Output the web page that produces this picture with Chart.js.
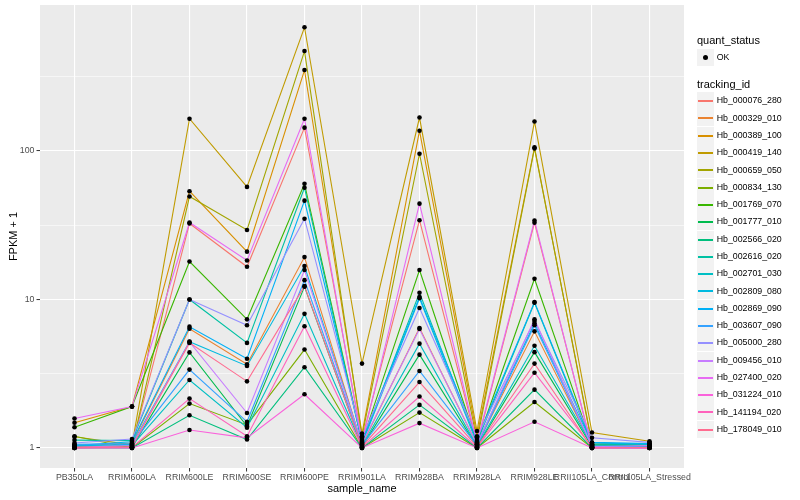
<!DOCTYPE html>
<html><head><meta charset="utf-8">
<script src="https://cdn.jsdelivr.net/npm/chart.js@4.4.1/dist/chart.umd.min.js"></script>
<style>
html,body{margin:0;padding:0;background:#fff;}
#wrap{position:relative;width:800px;height:500px;font-family:"Liberation Sans",Arial,Helvetica,sans-serif;overflow:hidden;}
canvas{position:absolute;left:0;top:0;}
.lg{position:absolute;white-space:nowrap;color:#000;}
.key{position:absolute;background:#F2F2F2;}
</style></head><body>
<div id="wrap"><canvas id="c" width="800" height="500"></canvas><div id="legend"></div></div>
<script>
const categories = ["PB350LA","RRIM600LA","RRIM600LE","RRIM600SE","RRIM600PE","RRIM901LA","RRIM928BA","RRIM928LA","RRIM928LE","RRII105LA_Control","RRII105LA_Stressed"];
const seriesNames = ["Hb_000076_280","Hb_000329_010","Hb_000389_100","Hb_000419_140","Hb_000659_050","Hb_000834_130","Hb_001769_070","Hb_001777_010","Hb_002566_020","Hb_002616_020","Hb_002701_030","Hb_002809_080","Hb_002869_090","Hb_003607_090","Hb_005000_280","Hb_009456_010","Hb_027400_020","Hb_031224_010","Hb_141194_020","Hb_178049_010"];
const seriesColors = ["#F8766D","#EA8331","#D89000","#C09B00","#A3A500","#7CAE00","#39B600","#00BB4E","#00BF7D","#00C1A3","#00BFC4","#00BAE0","#00B0F6","#35A2FF","#9590FF","#C77CFF","#E76BF3","#FA62DB","#FF62BC","#FF6C90"];

const hb000076_280 = [1.02, 1.03, 32.5, 16.6, 143.6, 1.15, 34.2, 1.06, 32.9, 1.01, 1.02];
const hb000329_010 = [1.03, 1.08, 6.36, 3.66, 19.3, 1.05, 6.43, 1.05, 6.1, 1.03, 1.04];
const hb000389_100 = [1.48, 1.9, 53.6, 21.0, 351, 1.25, 137, 1.2, 106, 1.05, 1.05];
const hb000419_140 = [1.19, 1.05, 165, 57.3, 681, 3.7, 168, 1.3, 158, 1.27, 1.11];
const hb000659_050 = [1.0, 1.02, 49.4, 29.4, 471, 1.2, 95.8, 1.12, 104, 1.08, 1.06];
const hb000834_130 = [1.2, 1.0, 1.99, 1.43, 4.6, 1.0, 1.73, 1.0, 2.04, 1.0, 1.01];
const hb001769_070 = [1.38, 1.9, 18.0, 7.35, 60.2, 1.1, 15.8, 1.08, 13.8, 1.05, 1.03];
const hb001777_010 = [1.02, 1.01, 4.4, 1.40, 12.2, 1.02, 4.25, 1.02, 4.42, 1.02, 1.02];
const hb002566_020 = [1.0, 1.0, 1.66, 1.14, 3.5, 1.0, 1.95, 1.0, 2.47, 1.0, 1.0];
const hb002616_020 = [1.13, 1.12, 10.0, 5.1, 56.6, 1.08, 11.1, 1.1, 9.5, 1.06, 1.05];
const hb002701_030 = [1.05, 1.04, 2.87, 1.37, 8.0, 1.03, 5.04, 1.03, 4.88, 1.04, 1.03];
const hb002809_080 = [1.03, 1.06, 5.2, 3.57, 16.8, 1.06, 10.2, 1.07, 6.9, 1.08, 1.06];
const hb002869_090 = [1.04, 1.1, 6.56, 3.99, 46.3, 1.12, 10.4, 1.15, 9.6, 1.09, 1.07];
const hb003607_090 = [1.06, 1.07, 3.37, 1.50, 13.5, 1.04, 3.30, 1.04, 6.7, 1.03, 1.02];
const hb005000_280 = [1.08, 1.15, 10.0, 6.7, 35.0, 1.18, 8.77, 1.18, 7.16, 1.17, 1.09];
const hb009456_010 = [1.01, 1.04, 5.18, 1.72, 15.8, 1.07, 6.33, 1.06, 7.35, 1.02, 1.04];
const hb027400_020 = [1.58, 1.9, 33.0, 18.3, 165, 1.09, 44.2, 1.09, 34.0, 1.0, 1.0];
const hb031224_010 = [1.0, 1.0, 1.32, 1.17, 2.3, 1.0, 1.47, 1.0, 1.50, 1.0, 1.0];
const hb141194_020 = [1.0, 1.01, 2.15, 1.2, 6.6, 1.01, 2.22, 1.01, 3.21, 1.01, 1.0];
const hb178049_010 = [1.01, 1.02, 5.1, 2.81, 12.3, 1.02, 2.78, 1.02, 3.70, 1.0, 1.01];

const seriesValues = [hb000076_280,hb000329_010,hb000389_100,hb000419_140,hb000659_050,hb000834_130,hb001769_070,hb001777_010,hb002566_020,hb002616_020,hb002701_030,hb002809_080,hb002869_090,hb003607_090,hb005000_280,hb009456_010,hb027400_020,hb031224_010,hb141194_020,hb178049_010];

const yTickLabels = [1, 10, 100];
const yMinorGrid = [3.1623, 31.623, 316.23];

Chart.defaults.font.family = '"Liberation Sans", Arial, Helvetica, sans-serif';
Chart.defaults.animation = false;

const datasets = seriesValues.map((vals, i) => ({
  label: seriesNames[i],
  data: vals.map((v, j) => ({x: j, y: v})),
  borderColor: seriesColors[i],
  backgroundColor: seriesColors[i],
  borderWidth: 1.1,
  pointRadius: 0,
  pointHoverRadius: 0,
  fill: false,
  tension: 0,
  order: seriesValues.length - i
}));
const allPoints = [];
seriesValues.forEach(vals => vals.forEach((v, j) => allPoints.push({x: j, y: v})));
datasets.push({
  label: 'OK',
  data: allPoints,
  showLine: false,
  pointRadius: 2.3,
  pointBackgroundColor: '#000',
  pointBorderWidth: 0,
  borderColor: '#000',
  order: -1
});

const panelBg = {
  id: 'panelBg',
  beforeDraw(chart) {
    const {ctx, chartArea: a} = chart;
    ctx.save();
    ctx.fillStyle = '#EBEBEB';
    ctx.fillRect(a.left, a.top, a.right - a.left, a.bottom - a.top);
    ctx.restore();
  }
};

new Chart(document.getElementById('c'), {
  type: 'line',
  data: {datasets},
  plugins: [panelBg],
  options: {
    responsive: false,
    devicePixelRatio: 1,
    layout: {autoPadding: false, padding: {left: 0, right: 116, top: 5, bottom: 0}},
    plugins: {legend: {display: false}, tooltip: {enabled: false}},
    events: [],
    scales: {
      x: {
        type: 'linear',
        bounds: 'data',
        min: -0.6,
        max: 10.6,
        afterBuildTicks: s => { s.ticks = categories.map((c, i) => ({value: i})); },
        afterFit: s => { s.height = 32; s.paddingLeft = 0; s.paddingRight = 0; },
        ticks: {
          autoSkip: false, maxRotation: 0, minRotation: 0, padding: 1,
          color: '#4D4D4D', font: {size: 8.8},
          callback: v => categories[v]
        },
        grid: {color: '#FFFFFF', lineWidth: 1.1, tickLength: 3.5, tickColor: '#333333', tickWidth: 1},
        border: {display: false},
        title: {display: true, text: 'sample_name', color: '#000', font: {size: 11}, padding: {top: 0, bottom: 4}}
      },
      y: {
        type: 'logarithmic',
        bounds: 'data',
        min: 0.733,
        max: 962,
        afterBuildTicks: s => {
          const vals = yTickLabels.concat(yMinorGrid).sort((a, b) => a - b);
          s.ticks = vals.map(v => ({value: v}));
        },
        afterFit: s => { s.width = 40; s.paddingTop = 0; s.paddingBottom = 0; },
        ticks: {
          autoSkip: false, padding: 2, color: '#4D4D4D', font: {size: 8.8, lineHeight: 0.5},
          callback: v => yTickLabels.includes(v) ? String(v) : ''
        },
        grid: {
          color: '#FFFFFF',
          lineWidth: c => (c.tick && yTickLabels.includes(c.tick.value)) ? 1.1 : 0.55,
          tickLength: 3.5,
          tickColor: c => (c.tick && yTickLabels.includes(c.tick.value)) ? '#333333' : 'rgba(0,0,0,0)',
          tickWidth: 1
        },
        border: {display: false},
        title: {display: true, text: 'FPKM + 1', color: '#000', font: {size: 11}, padding: {top: 7, bottom: 0}}
      }
    }
  }
});

// Legend (HTML)
const lg = document.getElementById('legend');
function addText(txt, x, cy, size) {
  const d = document.createElement('div');
  d.className = 'lg';
  d.textContent = txt;
  d.style.left = x + 'px';
  d.style.top = Math.round(cy - size * 0.6) + 'px';
  d.style.fontSize = size + 'px';
  d.style.lineHeight = (size * 1.2) + 'px';
  lg.appendChild(d);
}
function addKey(cy, color, dot) {
  const k = document.createElement('div');
  k.className = 'key';
  const top = Math.round(cy - 8.5);
  k.style.left = '697px'; k.style.top = top + 'px';
  k.style.width = '17px'; k.style.height = '17px';
  if (dot) {
    const p = document.createElement('div');
    p.style.cssText = 'position:absolute;left:6px;top:6px;width:5px;height:5px;border-radius:50%;background:#000;';
    k.appendChild(p);
  } else {
    const l = document.createElement('div');
    l.style.cssText = 'position:absolute;left:1px;top:8px;width:15px;height:2px;background:' + color + ';';
    k.appendChild(l);
  }
  lg.appendChild(k);
}
addText('quant_status', 697, 40.7, 11);
addKey(57.2, '#000', true);
addText('OK', 716.7, 57.2, 8.8);
addText('tracking_id', 697, 84.3, 11);
seriesNames.forEach((n, i) => {
  const cy = 100.7 + 17.29 * i;
  addKey(cy, seriesColors[i], false);
  addText(n, 716.7, cy, 8.8);
});
</script>
</body></html>
